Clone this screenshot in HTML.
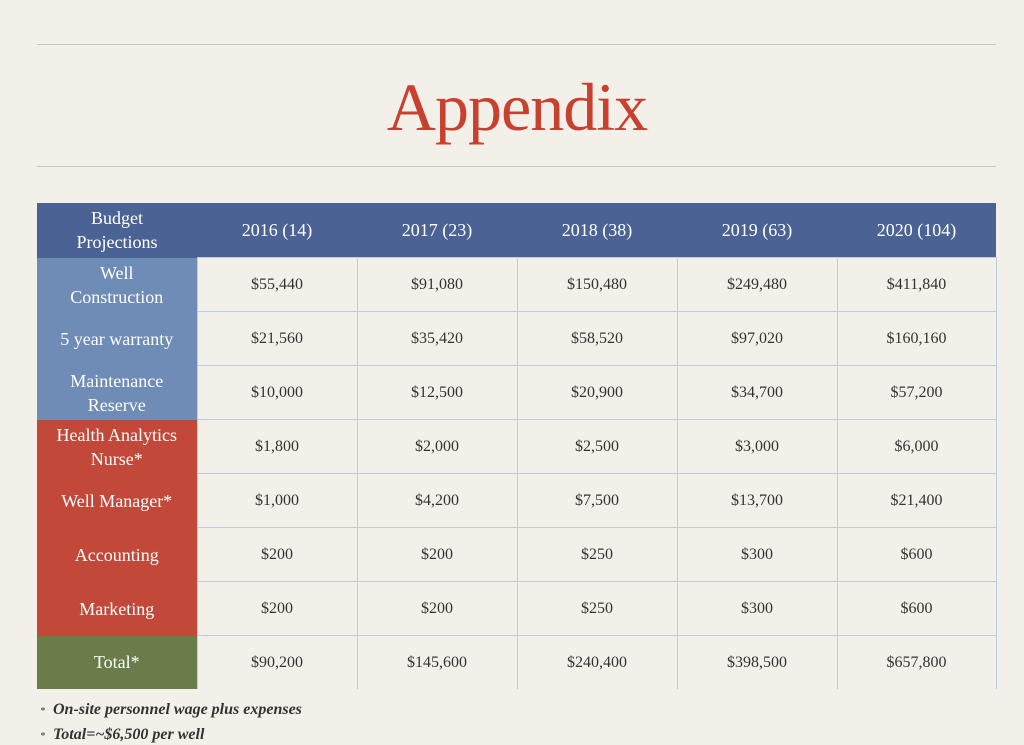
<!DOCTYPE html>
<html><head><meta charset="utf-8"><style>
html,body{margin:0;padding:0}
body{width:1024px;height:745px;background:#f3f0ea;position:relative;overflow:hidden;font-family:"Liberation Serif",serif}
.hr{position:absolute;left:37px;width:959px;height:1px;background:#c9c4bc}
.title{position:absolute;left:0;width:1034px;top:68px;text-align:center;font-size:68px;color:#c8402e;letter-spacing:-1px}
table{position:absolute;left:37px;top:203px;border-collapse:collapse;table-layout:fixed}
td{height:53px;padding:0;text-align:center;font-size:16px;color:#333;border:1px solid #bccbe0;line-height:24px}
tr:first-child td{background:#4a6394;color:#fff;font-size:18px;border:none;height:54px}
td.h{color:#fff;font-size:18px;border:none}
.b{background:#6f8cb6}.r{background:#c2493a}.g{background:#6a7c48}
.f{position:absolute;left:40px;font-style:italic;font-weight:bold;font-size:16px;color:#333}
</style></head><body>
<div class="hr" style="top:44px"></div>
<div class="title">Appendix</div>
<div class="hr" style="top:166px"></div>
<table>
<colgroup><col style="width:160px"><col style="width:160px"><col style="width:160px"><col style="width:160px"><col style="width:160px"><col style="width:159px"></colgroup>
<tr><td>Budget<br>Projections</td><td>2016 (14)</td><td>2017 (23)</td><td>2018 (38)</td><td>2019 (63)</td><td>2020 (104)</td></tr>
<tr><td class="h b">Well<br>Construction</td><td>$55,440</td><td>$91,080</td><td>$150,480</td><td>$249,480</td><td>$411,840</td></tr>
<tr><td class="h b">5 year warranty</td><td>$21,560</td><td>$35,420</td><td>$58,520</td><td>$97,020</td><td>$160,160</td></tr>
<tr><td class="h b">Maintenance<br>Reserve</td><td>$10,000</td><td>$12,500</td><td>$20,900</td><td>$34,700</td><td>$57,200</td></tr>
<tr><td class="h r">Health Analytics<br>Nurse*</td><td>$1,800</td><td>$2,000</td><td>$2,500</td><td>$3,000</td><td>$6,000</td></tr>
<tr><td class="h r">Well Manager*</td><td>$1,000</td><td>$4,200</td><td>$7,500</td><td>$13,700</td><td>$21,400</td></tr>
<tr><td class="h r">Accounting</td><td>$200</td><td>$200</td><td>$250</td><td>$300</td><td>$600</td></tr>
<tr><td class="h r">Marketing</td><td>$200</td><td>$200</td><td>$250</td><td>$300</td><td>$600</td></tr>
<tr><td class="h g">Total*</td><td style="border-bottom:none">$90,200</td><td style="border-bottom:none">$145,600</td><td style="border-bottom:none">$240,400</td><td style="border-bottom:none">$398,500</td><td style="border-bottom:none">$657,800</td></tr>
</table>
<div class="f" style="top:701px"><span style="font-size:10px;font-weight:normal">*</span>&nbsp; On-site personnel wage plus expenses</div>
<div class="f" style="top:726px"><span style="font-size:10px;font-weight:normal">*</span>&nbsp; Total=~$6,500 per well</div>
</body></html>
